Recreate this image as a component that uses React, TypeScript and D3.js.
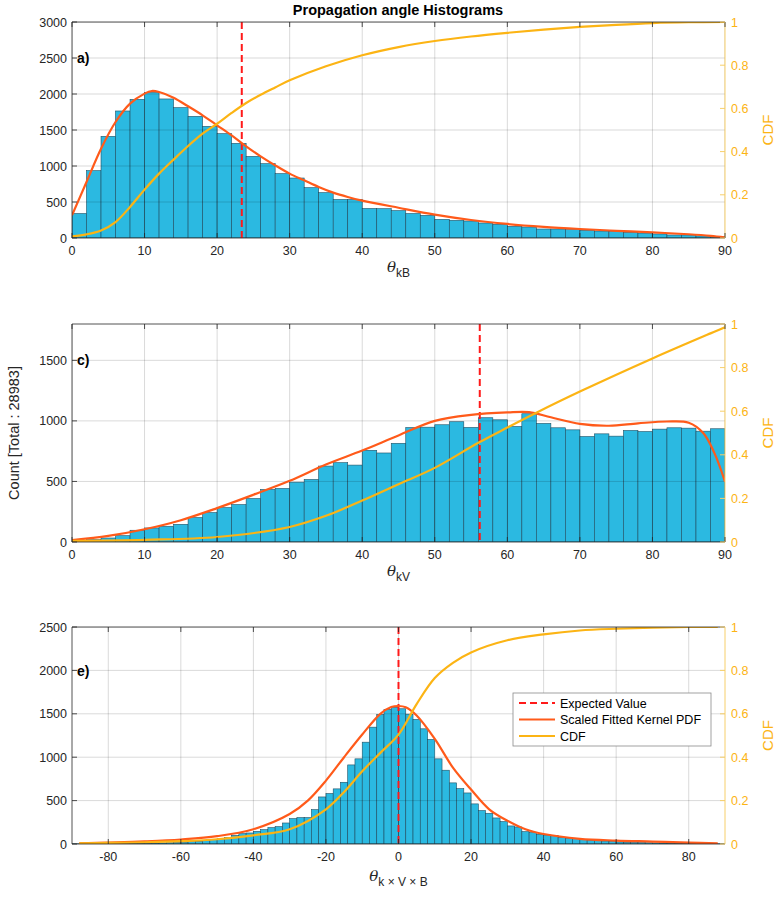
import React from 'react';
import * as d3 from 'd3';

const W = 779;
const H = 900;

const binWidth = 2;

// Panel a) theta_kB
const kbBinStart = 0;
const kbCounts = [
  340, 935, 1412, 1764, 1926, 2019, 1931, 1810, 1690, 1551,
  1449, 1315, 1134, 1032, 894, 833, 699, 630, 535, 535,
  410, 407, 380, 340, 315, 259, 245, 236, 208, 190,
  162, 153, 125, 125, 116, 106, 97, 88, 79, 69,
  56, 42, 42, 28, 14,
];
const kbPdfX = [0, 2, 4, 6, 8, 10, 11, 12, 14, 16, 18, 20, 22, 24, 26, 28, 30, 32, 34, 36, 38, 40, 45, 50, 55, 60, 65, 70, 75, 80, 85, 88, 90];
const kbPdfY = [315, 778, 1240, 1611, 1866, 2005, 2042, 2028, 1949, 1829, 1704, 1565, 1426, 1273, 1134, 1009, 894, 801, 708, 630, 570, 520, 420, 325, 250, 195, 155, 125, 100, 78, 52, 30, 8];
const kbCdfX = [0, 2, 4, 6, 8, 10, 12, 14, 16, 18, 20, 22, 24, 26, 28, 30, 35, 40, 45, 50, 55, 60, 65, 70, 75, 80, 85, 90];
const kbCdfY = [0.008, 0.017, 0.035, 0.074, 0.144, 0.224, 0.298, 0.363, 0.426, 0.483, 0.529, 0.579, 0.625, 0.663, 0.697, 0.73, 0.795, 0.846, 0.884, 0.912, 0.933, 0.95, 0.965, 0.977, 0.987, 0.995, 0.999, 1];
const kbExpected = 23.4;

// Panel c) theta_kV
const kvBinStart = 0;
const kvCounts = [
  8, 19, 33, 52, 97, 116, 130, 146, 202, 243,
  284, 309, 359, 434, 442, 494, 516, 627, 655, 635,
  757, 735, 815, 945, 948, 968, 993, 946, 1026, 1009,
  954, 1059, 979, 943, 926, 871, 893, 874, 921, 912,
  932, 943, 940, 915, 935,
];
const kvPdfX = [0, 5, 10, 15, 20, 25, 30, 35, 40, 45, 50, 55, 60, 63, 66, 70, 74, 78, 82, 85, 87, 88.5, 90];
const kvPdfY = [15, 50, 105, 180, 280, 390, 505, 640, 755, 880, 1000, 1050, 1070, 1072, 1030, 975, 960, 980, 995, 985, 900, 740, 498];
const kvCdfX = [0, 10, 20, 30, 35, 40, 45, 50, 56, 60, 64, 70, 80, 88, 90];
const kvCdfY = [0.005, 0.01, 0.023, 0.069, 0.12, 0.19, 0.265, 0.34, 0.455, 0.525, 0.593, 0.69, 0.842, 0.957, 0.985];
const kvExpected = 56.2;

// Panel e) theta_kxVxB
const kvbBinStart = -90;
const kvbCounts = [
  2, 3, 3, 4, 4, 5, 5, 6, 7, 8, 9, 10, 12, 14,
  17, 21, 26, 32, 40, 50, 60, 74, 100,
  119, 127, 146, 165, 188, 200, 242, 292, 304, 304, 396, 542, 581, 635, 711, 911, 981, 1173, 1346, 1492, 1550, 1573,
  1558, 1496, 1435, 1327, 1204, 981, 850, 704, 638, 588, 462, 385, 354, 300, 258, 208, 196, 142, 131, 112, 104,
  100, 77, 69, 62, 50, 46, 38, 35, 27, 23, 20, 18, 16, 14, 12, 10, 9, 8, 7, 6, 5, 4, 3, 2,
];
const kvbPdfX = [-88, -80, -70, -60, -50, -40, -30, -25, -20, -15, -10, -5, -2, 0, 2, 5, 10, 15, 20, 25, 30, 35, 40, 50, 60, 70, 80, 88];
const kvbPdfY = [8, 15, 30, 52, 90, 170, 345, 500, 730, 1000, 1261, 1500, 1578, 1590, 1575, 1480, 1211, 880, 627, 400, 269, 170, 115, 60, 40, 28, 15, 8];
const kvbCdfX = [-88, -80, -70, -60, -50, -40, -30, -20, -15, -10, -5, 0, 5, 10, 15, 20, 30, 40, 50, 60, 70, 80, 88];
const kvbCdfY = [0.003, 0.005, 0.008, 0.013, 0.022, 0.04, 0.068, 0.16, 0.24, 0.335, 0.42, 0.504, 0.645, 0.765, 0.835, 0.883, 0.939, 0.966, 0.984, 0.992, 0.997, 1, 1];
const kvbExpected = 0;

const xTicks90 = [0, 10, 20, 30, 40, 50, 60, 70, 80, 90];
const xTicks180 = [-80, -60, -40, -20, 0, 20, 40, 60, 80];
const yTicksA = [0, 500, 1000, 1500, 2000, 2500, 3000];
const yTicksC = [0, 500, 1000, 1500];
const yTicksE = [0, 500, 1000, 1500, 2000, 2500];
const cdfTicks = [0, 0.2, 0.4, 0.6, 0.8, 1];
const cdfTickLabels = ['0', '0.2', '0.4', '0.6', '0.8', '1'];
const legendLabels = ['Expected Value', 'Scaled Fitted Kernel PDF', 'CDF'];

const BAR = '#2bb9e1';
const BAR_EDGE = '#1f4f63';
const PDF_C = '#ff5a1a';
const CDF_C = '#fcb414';
const EXP_C = '#ff1a1a';
const AX = '#262626';
const FONT = '"Liberation Sans", Arial, Helvetica, sans-serif';

type PanelProps = {
  id: string;
  top: number;
  bottom: number;
  xDomain: [number, number];
  xTicks: number[];
  yMax: number;
  yTicks: number[];
  binStart: number;
  counts: number[];
  pdfX: number[];
  pdfY: number[];
  cdfX: number[];
  cdfY: number[];
  expected: number;
  letter: string;
  letterY: number;
  sub: string;
  xlabelY: number;
  legend?: boolean;
};

const L = 72;
const R = 725;

function Panel(p: PanelProps) {
  const x = d3.scaleLinear().domain(p.xDomain).range([L, R]);
  const y = d3.scaleLinear().domain([0, p.yMax]).range([p.bottom, p.top]);
  const yc = d3.scaleLinear().domain([0, 1]).range([p.bottom, p.top]);
  const pdfLine = d3
    .line<number>()
    .x((_, i) => x(p.pdfX[i]))
    .y((d) => y(d))
    .curve(d3.curveCatmullRom.alpha(0.5));
  const cdfLine = d3
    .line<number>()
    .x((_, i) => x(p.cdfX[i]))
    .y((d) => yc(d))
    .curve(d3.curveCatmullRom.alpha(0.5));
  const tl = 5;
  const clipId = 'clip-' + p.id;
  const midY = (p.top + p.bottom) / 2;
  return (
    <g>
      <defs>
        <clipPath id={clipId}>
          <rect x={L} y={p.top} width={R - L} height={p.bottom - p.top} />
        </clipPath>
      </defs>
      <rect x={L} y={p.top} width={R - L} height={p.bottom - p.top} fill="#fff" />
      <g clipPath={`url(#${clipId})`}>
        {p.counts.map((c, i) => {
          const x0 = p.binStart + i * binWidth;
          return (
            <rect
              key={i}
              x={x(x0)}
              y={y(c)}
              width={x(x0 + binWidth) - x(x0)}
              height={y(0) - y(c)}
              fill={BAR}
              stroke={BAR_EDGE}
              strokeWidth={0.6}
            />
          );
        })}
        {p.xTicks.map((t) => (
          <line key={'gx' + t} x1={x(t)} x2={x(t)} y1={p.top} y2={p.bottom} stroke="#000" strokeOpacity={0.15} strokeWidth={1} />
        ))}
        {p.yTicks.map((t) => (
          <line key={'gy' + t} x1={L} x2={R} y1={y(t)} y2={y(t)} stroke="#000" strokeOpacity={0.15} strokeWidth={1} />
        ))}
        <line
          x1={x(p.expected)}
          x2={x(p.expected)}
          y1={p.top}
          y2={p.bottom}
          stroke={EXP_C}
          strokeWidth={2}
          strokeDasharray="7,4"
        />
        <path d={pdfLine(p.pdfY) || ''} fill="none" stroke={PDF_C} strokeWidth={2.2} />
        <path d={cdfLine(p.cdfY) || ''} fill="none" stroke={CDF_C} strokeWidth={2.2} />
      </g>
      <line x1={L} x2={R} y1={p.top} y2={p.top} stroke={AX} strokeWidth={0.8} />
      <line x1={L} x2={R} y1={p.bottom} y2={p.bottom} stroke={AX} strokeWidth={0.8} />
      <line x1={L} x2={L} y1={p.top} y2={p.bottom} stroke={AX} strokeWidth={0.8} />
      <line x1={R} x2={R} y1={p.top} y2={p.bottom} stroke="#f7cf6a" strokeWidth={1} />
      {p.xTicks.map((t) => (
        <g key={'xt' + t}>
          <line x1={x(t)} x2={x(t)} y1={p.bottom} y2={p.bottom - tl} stroke={AX} strokeWidth={0.8} />
          <line x1={x(t)} x2={x(t)} y1={p.top} y2={p.top + tl} stroke={AX} strokeWidth={0.8} />
          <text x={x(t)} y={p.bottom + 17} textAnchor="middle" fontSize={12.5} fill={AX} fontFamily={FONT}>
            {t}
          </text>
        </g>
      ))}
      {p.yTicks.map((t) => (
        <g key={'yt' + t}>
          <line x1={L} x2={L + tl} y1={y(t)} y2={y(t)} stroke={AX} strokeWidth={0.8} />
          <text x={L - 5} y={y(t) + 4.5} textAnchor="end" fontSize={12.5} fill={AX} fontFamily={FONT}>
            {t}
          </text>
        </g>
      ))}
      {cdfTicks.map((t, i) => (
        <g key={'ct' + t}>
          <line x1={R} x2={R - tl} y1={yc(t)} y2={yc(t)} stroke="#f7cf6a" strokeWidth={1} />
          <text x={R + 6} y={yc(t) + 4.5} textAnchor="start" fontSize={12.5} fill={CDF_C} fontFamily={FONT}>
            {cdfTickLabels[i]}
          </text>
        </g>
      ))}
      <text
        transform={`translate(${773},${midY}) rotate(-90)`}
        textAnchor="middle"
        fontSize={15}
        fill={CDF_C}
        fontFamily={FONT}
      >
        CDF
      </text>
      <text x={77} y={p.letterY} fontSize={14} fontWeight="bold" fill="#000" fontFamily={FONT}>
        {p.letter}
      </text>
      <text x={(L + R) / 2} y={p.xlabelY} textAnchor="middle" fill={AX}>
        <tspan fontFamily='"DejaVu Serif", serif' fontStyle="italic" fontSize={15}>
          θ
        </tspan>
        <tspan fontFamily={FONT} fontSize={12} dy={5}>
          {p.sub}
        </tspan>
      </text>
      {p.legend && (
        <g>
          <rect x={513} y={693} width={198} height={53} fill="#fff" stroke="#8a8a8a" strokeWidth={0.8} />
          {legendLabels.map((lab, i) => {
            const ly = 703 + i * 16.5;
            const col = i === 0 ? EXP_C : i === 1 ? PDF_C : CDF_C;
            return (
              <g key={lab}>
                <line
                  x1={519}
                  x2={555}
                  y1={ly}
                  y2={ly}
                  stroke={col}
                  strokeWidth={2}
                  strokeDasharray={i === 0 ? '7,4' : undefined}
                />
                <text x={560} y={ly + 4.5} fontSize={12.5} fill="#000" fontFamily={FONT}>
                  {lab}
                </text>
              </g>
            );
          })}
        </g>
      )}
    </g>
  );
}

export default function App() {
  return (
    <svg
      width={W}
      height={H}
      viewBox={`0 0 ${W} ${H}`}
      style={{ position: 'absolute', left: 0, top: 0, background: '#fff' }}
    >
      <rect x={0} y={0} width={W} height={H} fill="#fff" />
      <text x={398} y={15} textAnchor="middle" fontSize={14.5} fontWeight="bold" fill="#000" fontFamily={FONT}>
        Propagation angle Histograms
      </text>
      <Panel
        id="a"
        top={22}
        bottom={238}
        xDomain={[0, 90]}
        xTicks={xTicks90}
        yMax={3000}
        yTicks={yTicksA}
        binStart={kbBinStart}
        counts={kbCounts}
        pdfX={kbPdfX}
        pdfY={kbPdfY}
        cdfX={kbCdfX}
        cdfY={kbCdfY}
        expected={kbExpected}
        letter="a)"
        letterY={63}
        sub="kB"
        xlabelY={272}
      />
      <Panel
        id="c"
        top={324}
        bottom={542}
        xDomain={[0, 90]}
        xTicks={xTicks90}
        yMax={1800}
        yTicks={yTicksC}
        binStart={kvBinStart}
        counts={kvCounts}
        pdfX={kvPdfX}
        pdfY={kvPdfY}
        cdfX={kvCdfX}
        cdfY={kvCdfY}
        expected={kvExpected}
        letter="c)"
        letterY={365}
        sub="kV"
        xlabelY={576}
      />
      <Panel
        id="e"
        top={627}
        bottom={844}
        xDomain={[-90, 90]}
        xTicks={xTicks180}
        yMax={2500}
        yTicks={yTicksE}
        binStart={kvbBinStart}
        counts={kvbCounts}
        pdfX={kvbPdfX}
        pdfY={kvbPdfY}
        cdfX={kvbCdfX}
        cdfY={kvbCdfY}
        expected={kvbExpected}
        letter="e)"
        letterY={676}
        sub="k × V × B"
        xlabelY={881}
        legend
      />
      <text
        transform={`translate(${19},${433}) rotate(-90)`}
        textAnchor="middle"
        fontSize={14.5}
        fill={AX}
        fontFamily={FONT}
      >
        Count [Total : 28983]
      </text>
    </svg>
  );
}
